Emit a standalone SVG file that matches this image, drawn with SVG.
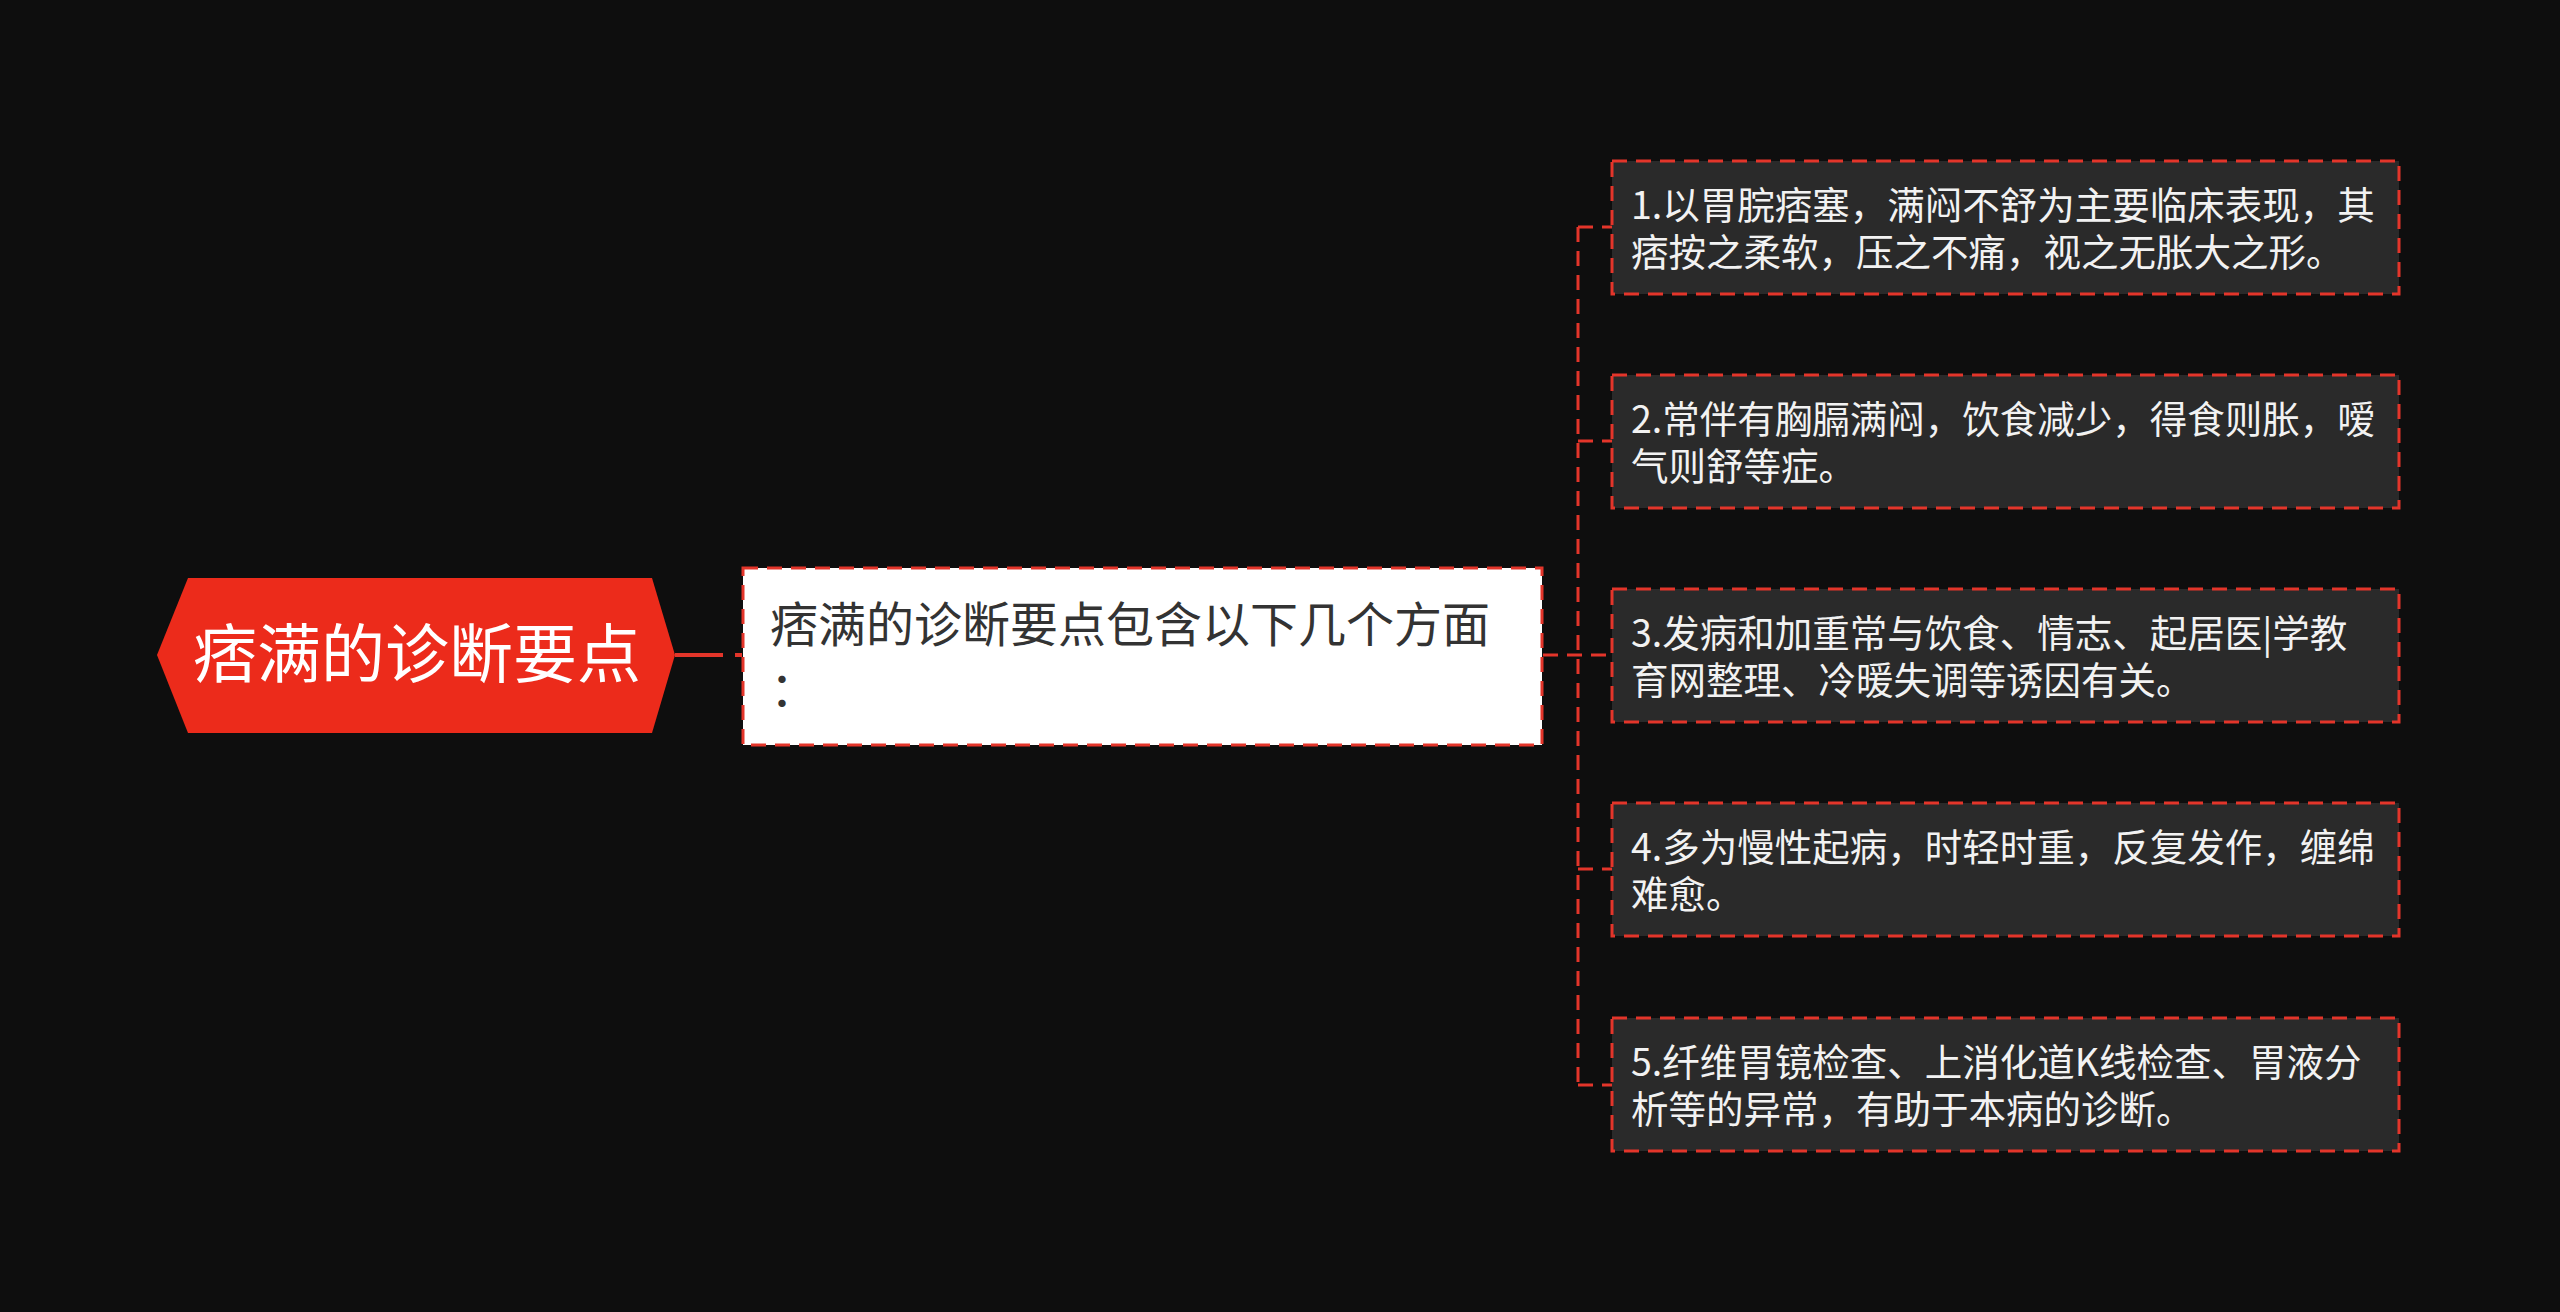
<svg xmlns="http://www.w3.org/2000/svg" width="2560" height="1312" viewBox="0 0 2560 1312">
<style>
.cjk{font-family:"Noto Sans CJK SC","Noto Sans",sans-serif;}
.conn{fill:none;stroke:#e3352a;stroke-width:3;stroke-dasharray:15 9;}
.leaf rect{fill:#2a2a2a;stroke:#e3352a;stroke-width:3;stroke-dasharray:15 9;}
.leaf text{fill:#f2f2f2;font-size:37.5px;}
</style>
<rect x="0" y="0" width="2560" height="1312" fill="#0e0e0e"/>
<g id="connectors">
<path d="M675 655 H742" stroke="#e3352a" stroke-width="4" fill="none" stroke-dasharray="48 12 8 100"/>
<path class="conn" d="M1543 655 H1612"/>
<path class="conn" d="M1578 227 V1085"/>
<path class="conn" d="M1578 227 H1612"/>
<path class="conn" d="M1578 441 H1612"/>
<path class="conn" d="M1578 869 H1612"/>
<path class="conn" d="M1578 1085 H1612"/>
</g>
<g id="root">
<polygon points="157,655 188,578 652,578 675,655 652,733 188,733" fill="#ec2b1b"/>
<text class="cjk" x="417" y="677" font-size="64" fill="#ffffff" text-anchor="middle">痞满的诊断要点</text>
</g>
<g id="middle">
<rect x="743" y="568" width="799" height="177" fill="#ffffff" stroke="#e3352a" stroke-width="3" stroke-dasharray="15 9"/>
<text class="cjk" font-size="48" fill="#333333"><tspan x="770" y="642">痞满的诊断要点包含以下几个方面</tspan><tspan x="770" y="706">：</tspan></text>
</g>
<g id="leaf1" class="leaf">
<rect x="1612" y="161" width="787" height="133"/>
<text class="cjk"><tspan x="1631" y="219">1.以胃脘痞塞，满闷不舒为主要临床表现，其</tspan><tspan x="1631" y="266">痞按之柔软，压之不痛，视之无胀大之形。</tspan></text>
</g>
<g id="leaf2" class="leaf">
<rect x="1612" y="375" width="787" height="133"/>
<text class="cjk"><tspan x="1631" y="433">2.常伴有胸膈满闷，饮食减少，得食则胀，嗳</tspan><tspan x="1631" y="480">气则舒等症。</tspan></text>
</g>
<g id="leaf3" class="leaf">
<rect x="1612" y="589" width="787" height="133"/>
<text class="cjk"><tspan x="1631" y="647">3.发病和加重常与饮食、情志、起居医|学教</tspan><tspan x="1631" y="694">育网整理、冷暖失调等诱因有关。</tspan></text>
</g>
<g id="leaf4" class="leaf">
<rect x="1612" y="803" width="787" height="133"/>
<text class="cjk"><tspan x="1631" y="861">4.多为慢性起病，时轻时重，反复发作，缠绵</tspan><tspan x="1631" y="908">难愈。</tspan></text>
</g>
<g id="leaf5" class="leaf">
<rect x="1612" y="1018" width="787" height="133"/>
<text class="cjk"><tspan x="1631" y="1076">5.纤维胃镜检查、上消化道K线检查、胃液分</tspan><tspan x="1631" y="1123">析等的异常，有助于本病的诊断。</tspan></text>
</g>
</svg>
